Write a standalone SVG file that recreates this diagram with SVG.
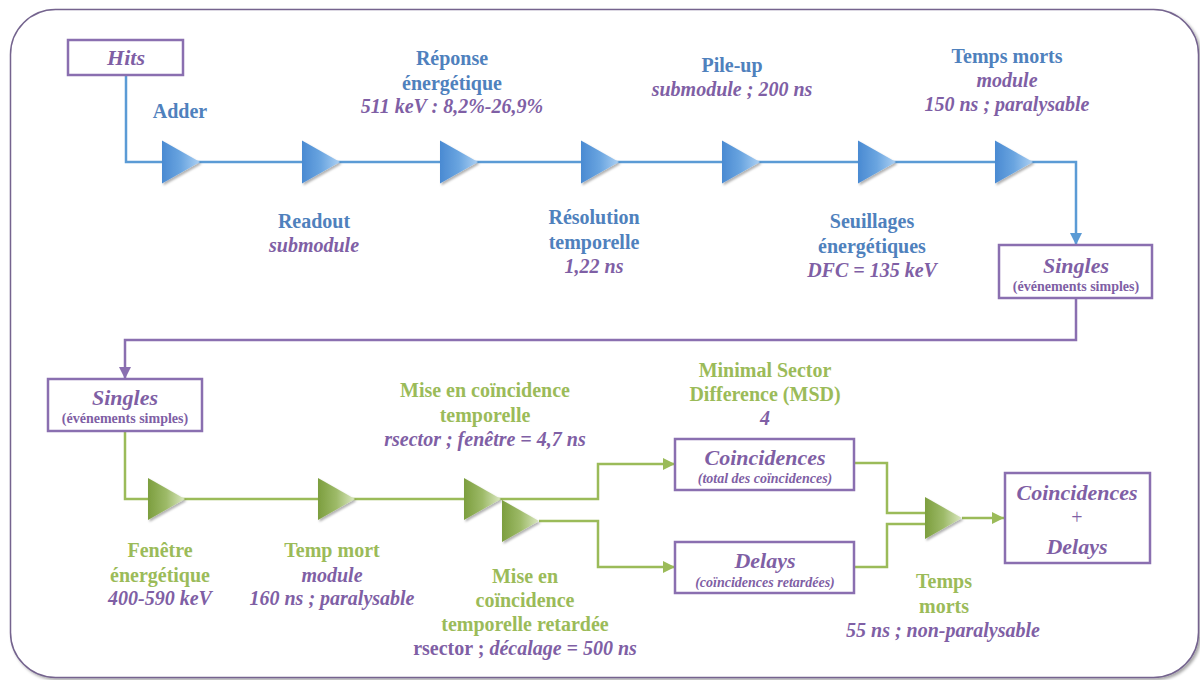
<svg xmlns="http://www.w3.org/2000/svg" width="1200" height="680" viewBox="0 0 1200 680">
<defs>
<style>
text{font-weight:bold;text-anchor:middle}
.lb{fill:#4f81bd;font-size:20px}
.lg{fill:#9bbb59;font-size:20px}
.pi{fill:#7f5fa5;font-size:20px;font-style:italic}
.pn{fill:#7f5fa5;font-size:20px;font-style:normal}
.bt{fill:#7f5fa5;font-size:22px;font-style:italic}
.bs{fill:#7f5fa5;font-size:14px}
.bsi{fill:#7f5fa5;font-size:14px;font-style:italic}
.box{fill:#fff;stroke:#8a6fb0;stroke-width:2.5}
.cb{fill:none;stroke:#5b9bd5;stroke-width:2.5}
.cg{fill:none;stroke:#9bbb59;stroke-width:2.5}
.cp{fill:none;stroke:#8a6fb0;stroke-width:2.5}
</style>
<linearGradient id="gb" x1="0" y1="0" x2="1" y2="0">
<stop offset="0" stop-color="#4a8ad2"/><stop offset="0.5" stop-color="#6aa5e0"/><stop offset="1" stop-color="#acd0f3"/>
</linearGradient>
<linearGradient id="gg" x1="0" y1="0" x2="1" y2="0">
<stop offset="0" stop-color="#7c9e3e"/><stop offset="0.5" stop-color="#9dba68"/><stop offset="1" stop-color="#dbe8c2"/>
</linearGradient>
<filter id="sh" x="-20%" y="-20%" width="150%" height="150%">
<feDropShadow dx="1.5" dy="2" stdDeviation="1.2" flood-color="#000" flood-opacity="0.3"/>
</filter>
<filter id="fs" x="-5%" y="-5%" width="110%" height="110%">
<feDropShadow dx="2" dy="2" stdDeviation="1.5" flood-color="#000" flood-opacity="0.35"/>
</filter>
<polygon id="tb" points="0,-21.5 38,0 0,21.5" fill="url(#gb)" filter="url(#sh)"/>
<polygon id="tg" points="0,-21 37,0 0,21" fill="url(#gg)" filter="url(#sh)"/>
<marker id="ab" markerUnits="userSpaceOnUse" markerWidth="14" markerHeight="14" refX="12" refY="6" orient="auto"><path d="M0,0 L12,6 L0,12 z" fill="#5b9bd5"/></marker>
<marker id="ag" markerUnits="userSpaceOnUse" markerWidth="14" markerHeight="14" refX="12" refY="6" orient="auto"><path d="M0,0 L12,6 L0,12 z" fill="#9bbb59"/></marker>
<marker id="ap" markerUnits="userSpaceOnUse" markerWidth="14" markerHeight="14" refX="12" refY="6" orient="auto"><path d="M0,0 L12,6 L0,12 z" fill="#8a6fb0"/></marker>
</defs>
<rect width="1200" height="680" fill="#fff"/>
<rect id="frame" x="10.5" y="9.5" width="1188" height="668" rx="45" fill="#fff" stroke="#74648e" stroke-width="1.5" filter="url(#fs)"/>

<g id="connectors">
<path class="cb" d="M126,76 V162 H1076 V245" marker-end="url(#ab)"/>
<path class="cp" d="M1076,298 V340 H125 V379" marker-end="url(#ap)"/>
<path class="cg" d="M125,431 V499 H598 V464 H675" marker-end="url(#ag)"/>
<path class="cg" d="M539,521 H598 V567 H675" marker-end="url(#ag)"/>
<path class="cg" d="M854,463 H887 V513 H925"/>
<path class="cg" d="M854,567 H887 V524 H925"/>
<path class="cg" d="M962,518 H1004" marker-end="url(#ag)"/>
</g>

<g id="diagram" font-family="Liberation Serif, Tinos, Times New Roman, serif">
<g id="hits"><rect class="box" x="68" y="40" width="115" height="35"/><text class="bt" x="126" y="65">Hits</text></g>

<g id="adder"><use href="#tb" x="162" y="162"/><text class="lb" x="180" y="118">Adder</text></g>
<g id="readout"><use href="#tb" x="302" y="162"/><text class="lb" x="314" y="228">Readout</text><text class="pi" x="314" y="252">submodule</text></g>
<g id="reponse"><use href="#tb" x="440" y="162"/><text class="lb" x="452" y="65">Réponse</text><text class="lb" x="452" y="90">énergétique</text><text class="pi" x="452" y="113">511 keV : 8,2%-26,9%</text></g>
<g id="resolution"><use href="#tb" x="581" y="162"/><text class="lb" x="594" y="224">Résolution</text><text class="lb" x="594" y="249">temporelle</text><text class="pi" x="594" y="273">1,22 ns</text></g>
<g id="pileup"><use href="#tb" x="722" y="162"/><text class="lb" x="732" y="72">Pile-up</text><text class="pi" x="732" y="96">submodule ; 200 ns</text></g>
<g id="seuillages"><use href="#tb" x="858" y="162"/><text class="lb" x="872" y="228">Seuillages</text><text class="lb" x="872" y="253">énergétiques</text><text class="pi" x="872" y="277">DFC = 135 keV</text></g>
<g id="tempsmorts1"><use href="#tb" x="995" y="162"/><text class="lb" x="1007" y="63">Temps morts</text><text class="pi" x="1007" y="87">module</text><text class="pi" x="1007" y="111">150 ns ; paralysable</text></g>

<g id="singles1"><rect class="box" x="999" y="245" width="153" height="53"/><text class="bt" x="1076" y="273">Singles</text><text class="bs" x="1076" y="291">(événements simples)</text></g>
<g id="singles2"><rect class="box" x="48" y="379" width="154" height="52"/><text class="bt" x="125" y="405">Singles</text><text class="bs" x="125" y="423">(événements simples)</text></g>

<g id="fenetre"><use href="#tg" x="148" y="499"/><text class="lg" x="160" y="557">Fenêtre</text><text class="lg" x="160" y="582">énergétique</text><text class="pi" x="160" y="605">400-590 keV</text></g>
<g id="tempmort"><use href="#tg" x="318" y="499"/><text class="lg" x="332" y="557">Temp mort</text><text class="pi" x="332" y="582">module</text><text class="pi" x="332" y="605">160 ns ; paralysable</text></g>
<g id="coincidence"><use href="#tg" x="464" y="499"/><text class="lg" x="485" y="397">Mise en coïncidence</text><text class="lg" x="485" y="422">temporelle</text><text class="pi" x="485" y="446">rsector ; fenêtre = 4,7 ns</text></g>
<g id="retardee"><use href="#tg" x="502" y="521"/><text class="lg" x="525" y="583">Mise en</text><text class="lg" x="525" y="607">coïncidence</text><text class="lg" x="525" y="631">temporelle retardée</text><text class="pn" x="525" y="655">rsector ; <tspan class="pi">décalage = 500 ns</tspan></text></g>

<g id="msd"><text class="lg" x="765" y="377">Minimal Sector</text><text class="lg" x="765" y="401">Difference (MSD)</text><text class="pi" x="765" y="425">4</text></g>
<g id="coincidences"><rect class="box" x="675" y="439" width="179" height="51"/><text class="bt" x="765" y="465">Coincidences</text><text class="bsi" x="765" y="483">(total des coïncidences)</text></g>
<g id="delays"><rect class="box" x="675" y="542" width="179" height="51"/><text class="bt" x="765" y="568">Delays</text><text class="bsi" x="765" y="587">(coïncidences retardées)</text></g>

<g id="tempsmorts2"><use href="#tg" x="925" y="518"/><text class="lg" x="944" y="588">Temps</text><text class="lg" x="944" y="613">morts</text><text class="pi" x="943" y="637">55 ns ; non-paralysable</text></g>

<g id="result"><rect class="box" x="1005" y="473" width="145" height="90"/><text class="bt" x="1077" y="500">Coincidences</text><text class="pn" x="1077" y="524" style="font-weight:normal">+</text><text class="bt" x="1077" y="554">Delays</text></g>
</g>
</svg>
